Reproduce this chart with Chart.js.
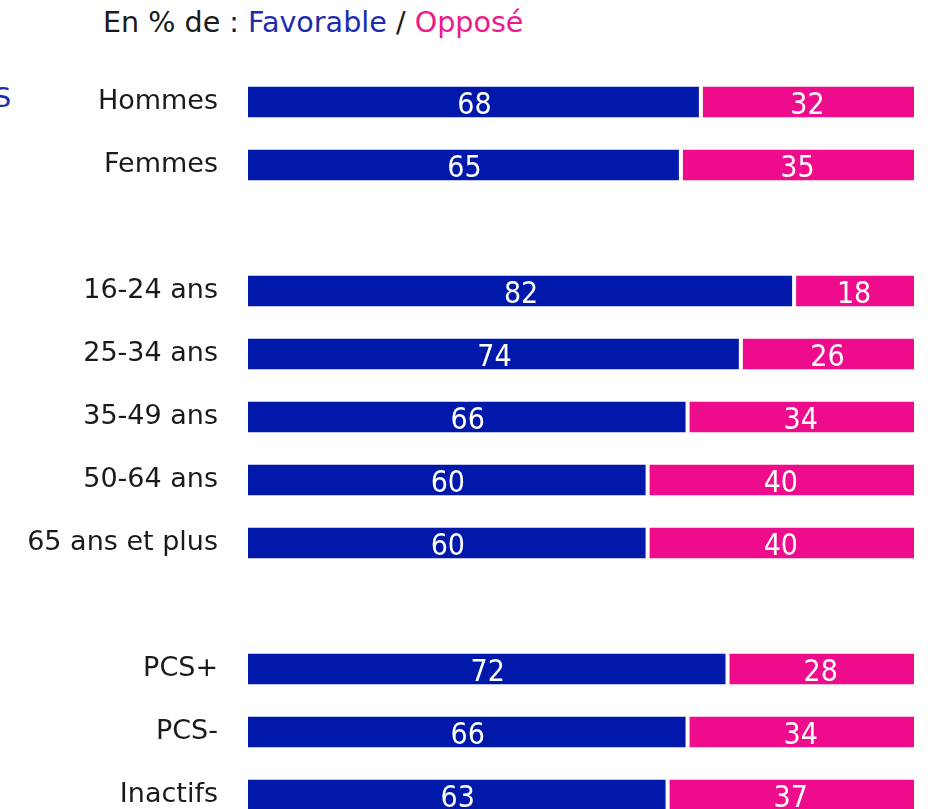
<!DOCTYPE html>
<html>
<head>
<meta charset="utf-8">
<script src="https://cdn.jsdelivr.net/npm/chart.js@4/dist/chart.umd.min.js"></script>
<style>
  html, body { margin: 0; padding: 0; background: #fff; overflow: hidden; width: 928px; height: 809px; }
  #wrap { position: relative; width: 928px; height: 830px; }
  #title { position: absolute; left: 103px; top: 8px; line-height: 28px; font-family: "DejaVu Sans", sans-serif; font-size: 28.6px; color: #1a1a1a; white-space: nowrap; }
  #title .fav { color: #1a2db0; }
  #title .opp { color: #ee1a8c; }
  #stray { position: absolute; left: -6px; top: 84px; line-height: 27px; font-family: "DejaVu Sans", sans-serif; font-size: 27px; color: #1a2db0; }
  canvas { position: absolute; left: 0; top: 0; }
</style>
</head>
<body>
<div id="wrap">
  <div id="title">En % de : <span class="fav">Favorable</span> / <span class="opp">Opposé</span></div>
  <div id="stray">S</div>
  <canvas id="c" width="928" height="830"></canvas>
</div>
<script>
const categories = ["Hommes", "Femmes", "", "16-24 ans", "25-34 ans", "35-49 ans", "50-64 ans", "65 ans et plus", "", "PCS+", "PCS-", "Inactifs"];
const favorable = [68, 65, null, 82, 74, 66, 60, 60, null, 72, 66, 63];
const oppose    = [32, 35, null, 18, 26, 34, 40, 40, null, 28, 34, 37];

const BLUE = "#0019aa";
const PINK = "#ee0c8c";
const FONT = '"DejaVu Sans", sans-serif';
const VFONT = '"Liberation Sans Narrow", "DejaVu Sans Condensed", sans-serif';

const labelsPlugin = {
  id: "customLabels",
  afterDatasetsDraw(chart) {
    const ctx = chart.ctx;
    const y = chart.scales.y;
    ctx.save();
    ctx.font = "27px " + FONT;
    ctx.fillStyle = "#1a1a1a";
    ctx.textAlign = "right";
    ctx.textBaseline = "middle";
    categories.forEach((c, i) => {
      if (c) ctx.fillText(c, 218, y.getPixelForValue(i));
    });
    ctx.font = "30px " + VFONT;
    ctx.fillStyle = "#ffffff";
    ctx.textAlign = "center";
    ctx.textBaseline = "alphabetic";
    chart.data.datasets.forEach((ds, di) => {
      const meta = chart.getDatasetMeta(di);
      meta.data.forEach((bar, i) => {
        const v = ds.data[i];
        if (v == null) return;
        const p = bar.getProps(["x", "base", "y"], true);
        ctx.fillText(String(v), (p.x + p.base) / 2, p.y + 12);
      });
    });
    ctx.restore();
  }
};

new Chart(document.getElementById("c"), {
  type: "bar",
  data: {
    labels: categories,
    datasets: [
      { label: "Favorable", data: favorable, backgroundColor: BLUE, borderColor: "#ffffff",
        borderWidth: { top: 0, bottom: 0, left: 0, right: 2 }, borderSkipped: false,
        barPercentage: 0.49, categoryPercentage: 1 },
      { label: "Opposé", data: oppose, backgroundColor: PINK, borderColor: "#ffffff",
        borderWidth: { top: 0, bottom: 0, left: 2, right: 0 }, borderSkipped: false,
        barPercentage: 0.49, categoryPercentage: 1 }
    ]
  },
  options: {
    indexAxis: "y",
    responsive: false,
    animation: false,
    layout: { padding: { left: 248, right: 14, top: 70.5, bottom: 3.5 } },
    plugins: { legend: { display: false }, tooltip: { enabled: false } },
    scales: {
      x: { stacked: true, min: 0, max: 100, display: false },
      y: { stacked: true, display: false }
    }
  },
  plugins: [labelsPlugin]
});
</script>
</body>
</html>
